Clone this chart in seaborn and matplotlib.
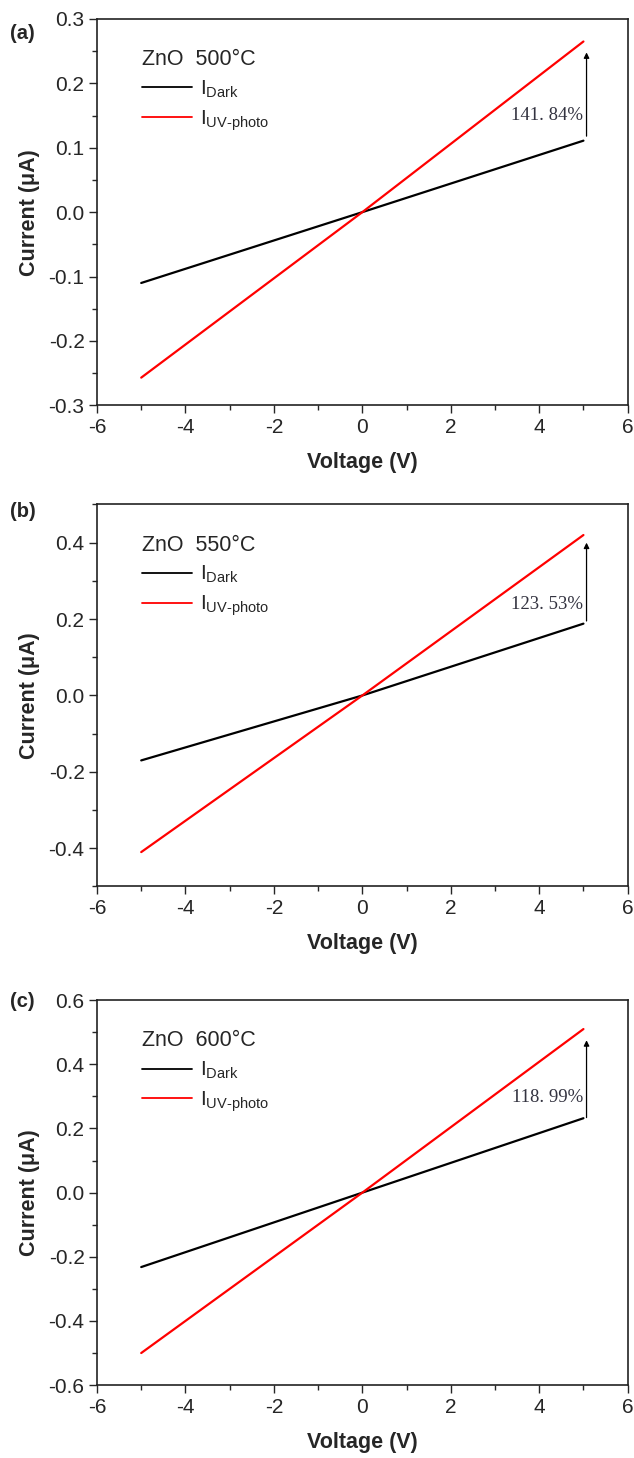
import numpy as np
import pandas as pd
import matplotlib
matplotlib.use('Agg')
import matplotlib.pyplot as plt
from matplotlib.ticker import MultipleLocator
import seaborn as sns

# values
voltage = [-5, 0, 5]
temps = ['500', '550', '600']
dark = [[-0.110, 0.0, 0.111],
        [-0.170, 0.0, 0.188],
        [-0.232, 0.0, 0.232]]
uv = [[-0.257, 0.0, 0.265],
      [-0.410, 0.0, 0.420],
      [-0.500, 0.0, 0.510]]
gains = ['141. 84%', '123. 53%', '118. 99%']
panel_tags = ['(a)', '(b)', '(c)']
ylims = [(-0.3, 0.3), (-0.5, 0.5), (-0.6, 0.6)]
ysteps = [0.1, 0.2, 0.2]
# arrow start/end and label height (current) for each panel
arrow_lo = [0.118, 0.195, 0.234]
arrow_hi = [0.248, 0.400, 0.475]
label_y = [0.150, 0.239, 0.297]

sns.set_style('ticks')
plt.rcParams['font.family'] = ['Liberation Sans', 'DejaVu Sans']
plt.rcParams['mathtext.fontset'] = 'custom'
plt.rcParams['mathtext.rm'] = 'Liberation Sans'
plt.rcParams['axes.unicode_minus'] = False
plt.rcParams['xtick.direction'] = 'out'
plt.rcParams['ytick.direction'] = 'out'

fig = plt.figure(figsize=(6.34, 14.58), dpi=100)
boxes = [(0.153, 0.722, 0.837, 0.265),
         (0.153, 0.392, 0.837, 0.262),
         (0.153, 0.050, 0.837, 0.264)]
tag_y = [0.977, 0.649, 0.313]

for i in range(3):
    ax = fig.add_axes(boxes[i])
    df = pd.DataFrame({
        'V': voltage * 2,
        'I': dark[i] + uv[i],
        'kind': [r'$\mathregular{I_{Dark}}$'] * 3 + [r'$\mathregular{I_{UV\text{-}photo}}$'] * 3,
    })
    sns.lineplot(data=df, x='V', y='I', hue='kind', palette=['black', 'red'],
                 linewidth=1.6, ax=ax)
    ax.set_xlim(-6, 6)
    ax.set_ylim(*ylims[i])
    ax.xaxis.set_major_locator(MultipleLocator(2))
    ax.xaxis.set_minor_locator(MultipleLocator(1))
    ax.yaxis.set_major_locator(MultipleLocator(ysteps[i]))
    ax.yaxis.set_minor_locator(MultipleLocator(ysteps[i] / 2))
    ax.tick_params(which='major', length=6, width=1, labelsize=15, pad=3)
    ax.tick_params(which='minor', length=3.5, width=1)
    for s in ax.spines.values():
        s.set_linewidth(1.2)
        s.set_color('#222222')
    ax.set_xlabel('Voltage (V)', fontsize=15.5, fontweight='bold', labelpad=11)
    ax.set_ylabel('Current (\u03bcA)', fontsize=15.5, fontweight='bold', labelpad=6)
    leg = ax.legend(title='ZnO  ' + temps[i] + '\u00b0C', loc='upper left',
                    bbox_to_anchor=(0.05, 0.97), frameon=False, fontsize=15,
                    title_fontsize=15.5, handlelength=2.4, handletextpad=0.35,
                    labelspacing=0.4, alignment='left')
    for ln in leg.get_lines():
        ln.set_linewidth(1.3)
    ax.annotate('', xy=(5.07, arrow_hi[i]), xytext=(5.07, arrow_lo[i]),
                arrowprops=dict(arrowstyle='-|>', color='black', lw=0.9,
                                mutation_scale=8, shrinkA=0, shrinkB=0))
    ax.text(5.0, label_y[i], gains[i], ha='right', va='center', fontsize=13.5,
            family=['Liberation Serif', 'DejaVu Serif'], color='#333340')
    fig.text(0.015, tag_y[i], panel_tags[i],
             fontsize=14.5, fontweight='bold', va='center')

fig.savefig('out.png', dpi=100)
